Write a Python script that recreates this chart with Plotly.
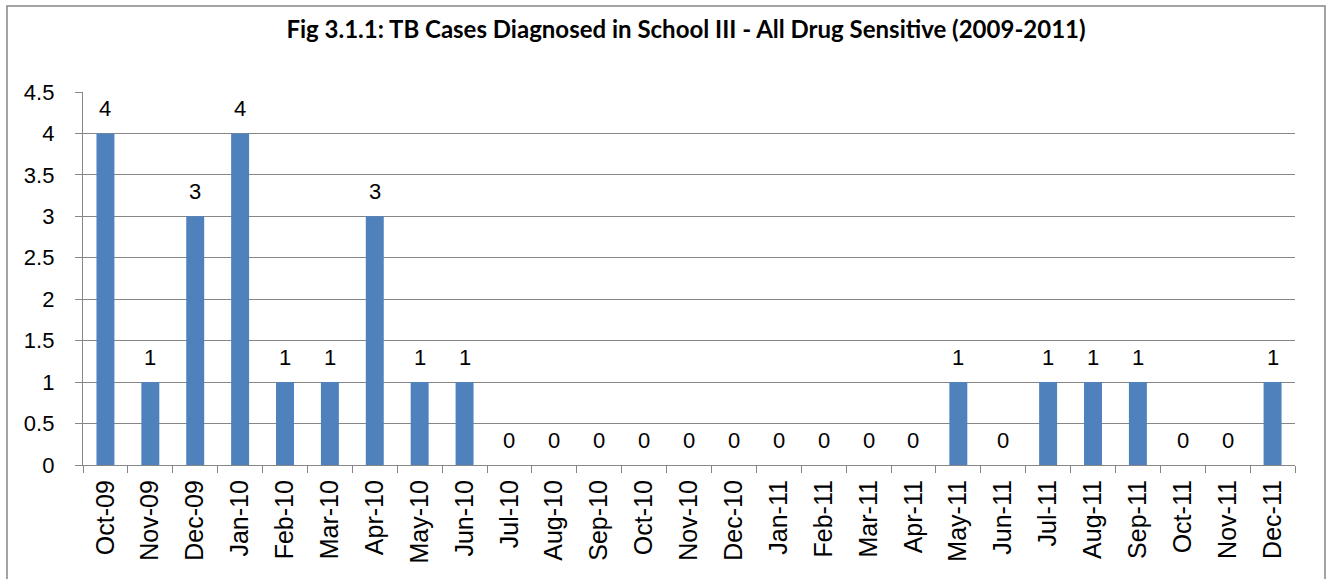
import plotly.graph_objects as go

months = ["Oct-09", "Nov-09", "Dec-09", "Jan-10", "Feb-10", "Mar-10", "Apr-10", "May-10", "Jun-10",
          "Jul-10", "Aug-10", "Sep-10", "Oct-10", "Nov-10", "Dec-10", "Jan-11", "Feb-11", "Mar-11",
          "Apr-11", "May-11", "Jun-11", "Jul-11", "Aug-11", "Sep-11", "Oct-11", "Nov-11", "Dec-11"]
cases = [4, 1, 3, 4, 1, 1, 3, 1, 1, 0, 0, 0, 0, 0, 0, 0, 0, 0, 0, 1, 0, 1, 1, 1, 0, 0, 1]
y_ticks = [0, 0.5, 1, 1.5, 2, 2.5, 3, 3.5, 4, 4.5]

W, H = 1330, 579
L, R, T, B = 83, 35, 92, 114
pw, ph = W - L - R, H - T - B
FONT = "Liberation Sans, Arial"

fig = go.Figure(go.Bar(
    x=months, y=cases,
    marker=dict(color="#4F81BD", line=dict(width=0)),
    width=0.4,
))

annotations = [dict(x=m, y=v, xref="x", yref="y", text=str(v), showarrow=False,
                    yanchor="middle", yshift=25,
                    font=dict(family=FONT, size=22, color="black"))
               for m, v in zip(months, cases)]

fig.update_layout(
    width=W, height=H,
    margin=dict(l=L, r=R, t=T, b=B),
    paper_bgcolor="white", plot_bgcolor="white",
    showlegend=False,
    title=dict(text="<b>Fig 3.1.1: TB Cases Diagnosed in School III - All Drug Sensitive (2009-2011)</b>",
               x=(686 - L) / pw, xref="paper", xanchor="center",
               y=1 - 30 / H, yref="container", yanchor="middle",
               font=dict(family="Lato, Open Sans", size=24, color="black")),
    xaxis=dict(type="category", tickson="boundaries", ticks="outside", ticklen=7,
               tickcolor="#868686", tickwidth=1.3, showline=True, linecolor="#868686", linewidth=1.3,
               showgrid=False, tickangle=-90, ticklabelstandoff=4,
               tickfont=dict(family=FONT, size=25, color="black"),
               range=[-0.5, len(months) - 0.5]),
    yaxis=dict(range=[0, 4.5], tickvals=y_ticks, ticktext=[f"{v:g}" for v in y_ticks],
               ticks="outside", ticklen=7, tickcolor="#868686", tickwidth=1.3,
               showline=True, linecolor="#868686", linewidth=1.3, ticklabelstandoff=16,
               showgrid=True, gridcolor="#868686", gridwidth=1.3, zeroline=False,
               tickfont=dict(family=FONT, size=22, color="black")),
    annotations=annotations,
    shapes=[dict(type="rect", xref="paper", yref="paper",
                 x0=(7 - L) / pw, x1=(1325 - L) / pw,
                 y0=(H - B - 600) / ph, y1=(H - B - 6) / ph,
                 line=dict(color="#868686", width=1.5), fillcolor="rgba(0,0,0,0)", layer="above")],
)

fig.write_html("out.html")
